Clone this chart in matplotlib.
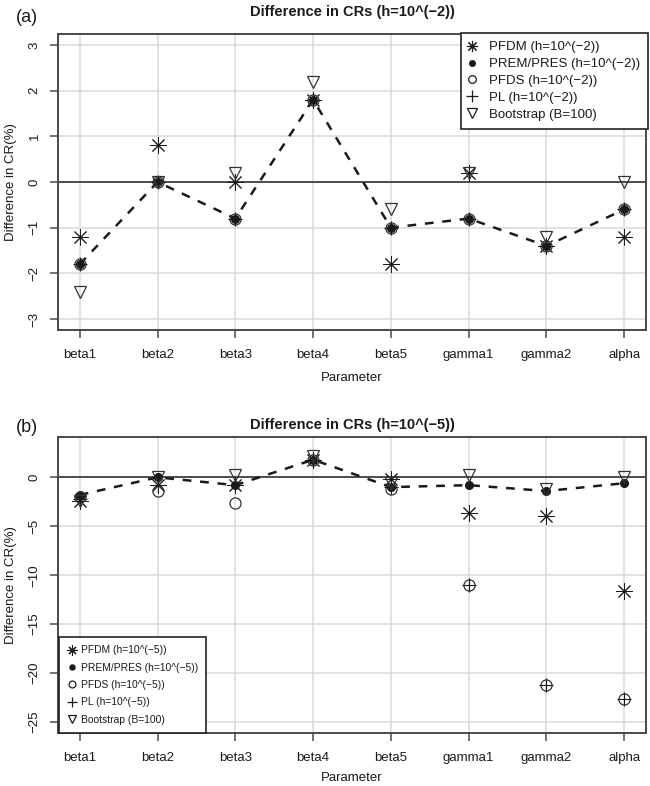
#!/usr/bin/env python3

import numpy as np
import matplotlib
matplotlib.use('Agg')
import matplotlib.pyplot as plt
from matplotlib.lines import Line2D


params = ['beta1', 'beta2', 'beta3', 'beta4', 'beta5', 'gamma1', 'gamma2', 'alpha']

# panel (a), h = 10^(-2)
pfdm_a = [-1.2, 0.8, 0.0, 1.8, -1.8, 0.2, -1.4, -1.2]
prem_a = [-1.8, 0.0, -0.8, 1.8, -1.0, -0.8, -1.4, -0.6]
pfds_a = [-1.8, 0.0, -0.8, 1.8, -1.0, -0.8, -1.4, -0.6]
pl_a = [-1.8, 0.0, -0.8, 1.8, -1.0, -0.8, -1.4, -0.6]
boot_a = [-2.4, 0.0, 0.2, 2.2, -0.6, 0.2, -1.2, 0.0]

# panel (b), h = 10^(-5)
pfdm_b = [-2.4, -0.8, -0.8, 1.8, -0.2, -3.6, -4.0, -11.6]
prem_b = [-1.8, 0.0, -0.8, 1.8, -1.0, -0.8, -1.4, -0.6]
pfds_b = [-2.0, -1.4, -2.6, 1.8, -1.2, -11.0, -21.2, -22.6]
pl_b = [-2.2, -0.8, -0.8, 1.8, -1.0, -11.0, -21.2, -22.6]
boot_b = [-2.4, 0.0, 0.2, 2.2, -0.6, 0.2, -1.2, 0.0]

plt.rcParams['font.family'] = ['Liberation Sans', 'DejaVu Sans']

INK = '#1a1a1a'
FRAME = '#4a4a4a'
GRID = '#dadada'


def panel(ax, pfdm, prem, pfds, pl, boot, ylim, yticks, h, leg_loc, leg_kw,
          title_pad, xlab_y):
    x = np.arange(1, len(params) + 1)
    lo, hi = ylim
    ext = 0.04 * (hi - lo)
    ax.set_xlim(0.72, len(params) + 0.28)
    ax.set_ylim(lo - ext, hi + ext)

    ax.set_xticks(x)
    ax.set_xticklabels(params)
    ax.set_yticks(yticks)
    ax.grid(True, color=GRID, lw=1.1)
    ax.set_axisbelow(True)
    ax.axhline(0, color='#333333', lw=1.2, zorder=1)

    ax.plot(x, prem, ls=(0, (3.5, 3.5)), color=INK, lw=1.8, zorder=2)
    ax.plot(x, pfdm, ls='none', marker=(8, 2, 0), ms=12, mec=INK, mew=0.7, zorder=3)
    ax.plot(x, prem, ls='none', marker='o', ms=5.5, mfc=INK, mec=INK, zorder=4)
    ax.plot(x, pfds, ls='none', marker='o', ms=8, mfc='none', mec='#333333', mew=0.9, zorder=4)
    ax.plot(x, pl, ls='none', marker='+', ms=10, mec=INK, mew=0.8, zorder=4)
    ax.plot(x, boot, ls='none', marker='v', ms=9, mfc='none', mec='#333333', mew=0.9, zorder=5)

    for s in ax.spines.values():
        s.set_color(FRAME)
        s.set_linewidth(1.4)
    ax.tick_params(axis='both', direction='out', length=5.5, width=1.1, color=FRAME,
                   labelsize=9.5, labelcolor=INK)
    ax.tick_params(axis='x', pad=8)
    ax.tick_params(axis='y', pad=7)
    for t in ax.get_yticklabels():
        t.set_rotation(90)
        t.set_va('center')

    ax.set_xlabel('Parameter', fontsize=9.5, color=INK, va='center')
    ax.xaxis.set_label_coords(0.5, xlab_y)
    ax.set_ylabel('Difference in CR(%)', fontsize=9.5, color=INK, va='center')
    ax.yaxis.set_label_coords(-0.08, 0.5)
    ax.set_title('Difference in CRs (h=10^(\u2212%d))' % h, fontsize=10.5,
                 fontweight='bold', color=INK, pad=title_pad)

    ms_scale = leg_kw.pop('ms_scale', 1.0)
    handles = [
        Line2D([], [], ls='none', marker=(8, 2, 0), ms=8 * ms_scale, mec=INK, mew=0.8),
        Line2D([], [], ls='none', marker='o', ms=4 * ms_scale, mfc=INK, mec=INK),
        Line2D([], [], ls='none', marker='o', ms=5.5 * ms_scale, mfc='none', mec=INK, mew=0.9),
        Line2D([], [], ls='none', marker='+', ms=8 * ms_scale, mec=INK, mew=0.9),
        Line2D([], [], ls='none', marker='v', ms=6.5 * ms_scale, mfc='none', mec=INK, mew=0.9),
    ]
    labels = [
        'PFDM (h=10^(\u2212%d))' % h,
        'PREM/PRES (h=10^(\u2212%d))' % h,
        'PFDS (h=10^(\u2212%d))' % h,
        'PL (h=10^(\u2212%d))' % h,
        'Bootstrap (B=100)',
    ]
    anchor = (1.003, 1.003) if leg_loc == 'upper right' else (0.002, 0.0)
    leg = ax.legend(handles, labels, loc=leg_loc, bbox_to_anchor=anchor,
                    borderaxespad=0.0, frameon=True, fancybox=False, framealpha=1,
                    edgecolor='#222222', **leg_kw)
    leg.get_frame().set_linewidth(1.2)
    for t in leg.get_texts():
        t.set_color(INK)


fig = plt.figure(figsize=(6.5, 7.86), dpi=100)
ax_a = fig.add_axes([58 / 650, 1 - 330 / 786, 588 / 650, 296 / 786])
ax_b = fig.add_axes([58 / 650, 1 - 733 / 786, 588 / 650, 296 / 786])

panel(ax_a, pfdm_a, prem_a, pfds_a, pl_a, boot_a, (-3, 3), range(-3, 4), 2,
      'upper right',
      dict(fontsize=9.5, borderpad=0.6, handlelength=0.5, handletextpad=1.0,
           labelspacing=0.35),
      13, -0.162)
panel(ax_b, pfdm_b, prem_b, pfds_b, pl_b, boot_b, (-25, 3), range(-25, 1, 5), 5,
      'lower left',
      dict(fontsize=7.4, borderpad=0.8, handlelength=0.8, handletextpad=0.5,
           labelspacing=0.72, ms_scale=0.9),
      6, -0.152)

fig.text(27 / 650, 1 - 18 / 786, '(a)', fontsize=13, ha='center', va='center', color=INK)
fig.text(27 / 650, 1 - 428 / 786, '(b)', fontsize=13, ha='center', va='center', color=INK)

plt.savefig('out.png', dpi=100)
